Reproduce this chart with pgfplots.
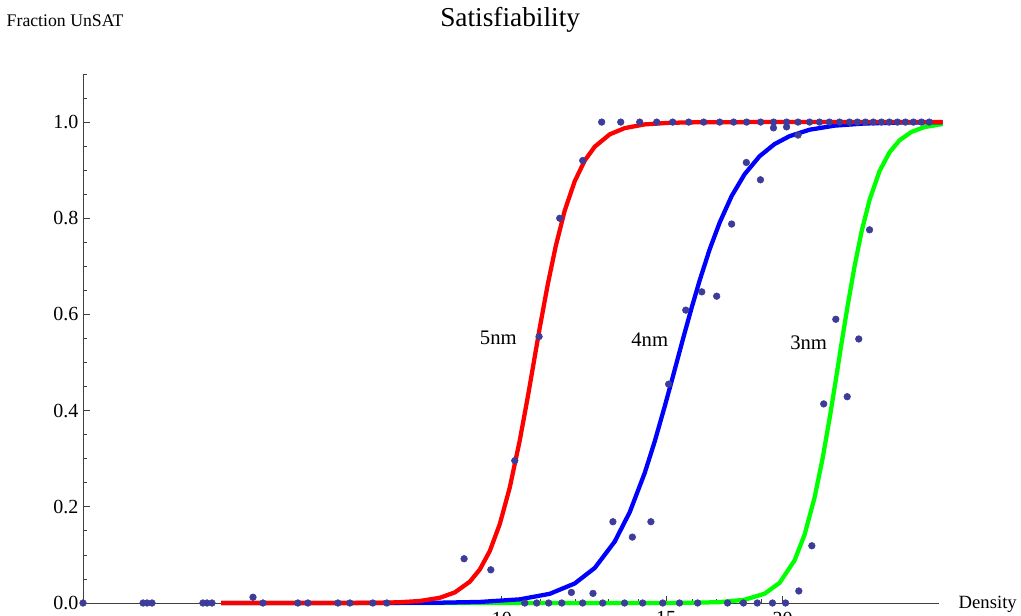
\documentclass[border=0pt]{standalone}
\usepackage{fontspec}
\setmainfont{Liberation Serif}
\usepackage{pgfplots}
\usepackage{pgfplotstable}
\pgfplotsset{compat=1.18}
\definecolor{ptcol}{rgb}{0.24,0.24,0.6}
\definecolor{axcol}{gray}{0.25}

% measured fraction of unsatisfiable instances vs. density
\pgfplotstableread{
x y
3.557 0
4.125 0
4.166 0
4.217 0
4.782 0
4.830 0
4.890 0
5.411 0.012
5.546 0
6.045 0
6.196 0
6.673 0
6.874 0
7.274 0
7.530 0
9.112 0.092
9.733 0.069
10.326 0.296
10.584 0
10.901 0
10.964 0.554
11.228 0
11.538 0.800
11.596 0
11.875 0.022
12.211 0.920
12.210 0
12.525 0.020
12.797 1.0
12.830 0
13.157 0.169
13.414 1.0
13.540 0
13.804 0.137
14.057 1.0
14.160 0
14.450 0.169
14.660 1.0
14.880 0
15.098 0.455
15.250 1.0
15.510 0
15.750 0.609
15.864 1.0
16.220 0
16.385 0.647
16.462 1.0
16.999 0.638
17.126 1.0
17.460 0
17.638 0.788
17.727 1.0
18.160 0
18.290 0.916
18.305 1.0
18.790 0
18.940 0.880
18.948 1.0
19.510 0
19.560 0.988
19.566 1.0
20.150 0
20.200 0.990
20.203 1.0
20.780 0.973
20.780 1.0
20.820 0.025
21.380 1.0
21.500 0.119
21.910 1.0
22.140 0.414
22.450 1.0
22.810 0.590
23.020 1.0
23.460 0.429
23.590 1.0
24.060 1.0
24.140 0.549
24.540 1.0
24.790 0.776
25.020 1.0
25.530 1.0
26.030 1.0
26.560 1.0
27.090 1.0
27.630 1.0
28.180 1.0
28.730 1.0
}\measured

% fitted curves, 3nm / 4nm / 5nm
\pgfplotstableread{
x y
5.000 0
9.951 0
12.734 0.000003
14.408 0.000045
15.902 0.00037
17.126 0.0018
18.215 0.0068
19.135 0.0194
19.855 0.0419
20.600 0.0884
21.115 0.1418
21.643 0.2190
22.074 0.2998
22.459 0.383
22.794 0.460
23.134 0.540
23.481 0.617
23.890 0.700
24.306 0.772
24.790 0.838
25.409 0.898
26.040 0.937
26.690 0.962
27.490 0.9795
28.386 0.9896
29.690 0.9960
}\fitthree

\pgfplotstableread{
x y
5.000 0
6.076 0.00001
7.404 0.0001
8.584 0.00064
9.472 0.0022
10.454 0.0076
11.257 0.0191
11.973 0.0406
12.582 0.0730
13.214 0.1276
13.716 0.1890
14.232 0.2705
14.587 0.3358
14.949 0.4081
15.210 0.4613
15.399 0.5
15.667 0.554
15.980 0.614
16.301 0.671
16.709 0.7356
17.126 0.7913
17.639 0.8462
18.215 0.8917
18.901 0.9291
19.612 0.9543
20.350 0.9708
21.376 0.9841
22.738 0.9926
24.485 0.99706
26.690 0.99901
29.690 0.99974
}\fitfour

\pgfplotstableread{
x y
5.000 0
6.076 0.00001
6.875 0.000146
7.404 0.00062
7.778 0.0016
8.171 0.0042
8.584 0.0109
8.907 0.0221
9.242 0.0444
9.472 0.0697
9.708 0.108
9.951 0.164
10.199 0.240
10.454 0.338
10.662 0.428
10.821 0.5
10.982 0.572
11.201 0.662
11.425 0.742
11.681 0.816
11.973 0.877
12.272 0.920
12.582 0.949
13.056 0.9746
13.548 0.9875
14.232 0.9952
15.131 0.99854
16.301 0.99966
18.442 0.99997
29.690 1.0
}\fitfive

\begin{document}
\begin{tikzpicture}
\begin{axis}[
  at={(62.25pt,-452.25pt)}, anchor=south west,
  scale only axis, width=642pt, height=396.75pt,
  xmode=log, xmin=3.557, xmax=29.43, ymin=0, ymax=1.1,
  clip=false,
  axis lines=left,
  axis line style={-, draw=axcol, line width=0.7pt},
  tick align=inside,
  major tick length=5.25pt, minor tick length=3pt,
  tick style={draw=axcol, line width=0.6pt},
  xtick={10,15,20}, xticklabels={10,15,20},
  minor xtick={11,12,13,14,16,17,18,19},
  ytick={0,0.2,0.4,0.6,0.8,1.0},
  yticklabels={0.0,0.2,0.4,0.6,0.8,1.0},
  minor ytick={0.05,0.1,0.15,0.25,0.3,0.35,0.45,0.5,0.55,0.65,0.7,0.75,0.85,0.9,0.95,1.05,1.1},
  /pgf/number format/assume math mode=true,
  ticklabel style={font=\fontsize{15}{18}\selectfont},
  xticklabel style={yshift=-3pt},
  title={Satisfiability},
  title style={at={(axis description cs:0.499,1.0907)}, anchor=base, yshift=-6pt,
    font=\fontsize{20.5}{24}\selectfont},
  xlabel={Density}, ylabel={Fraction UnSAT},
  every axis x label/.style={at={(axis description cs:1.0175,-0.0113)},
    anchor=base west, font=\fontsize{14}{17}\selectfont},
  every axis y label/.style={at={(axis description cs:-0.0946,1.0907)},
    anchor=base west, font=\fontsize{13.3}{16}\selectfont},
]
\addplot[only marks, mark=*, mark size=2.5pt, color=ptcol] table {\measured};
\addplot[color=green, line width=3.2pt] table {\fitthree};
\addplot[color=blue, line width=3.2pt] table {\fitfour};
\addplot[color=red, line width=3.2pt] table {\fitfive};
\node[anchor=base, font=\fontsize{15.5}{18}\selectfont] at (axis cs:9.914,0.5385) {5nm};
\node[anchor=base, font=\fontsize{15.5}{18}\selectfont] at (axis cs:14.408,0.534) {4nm};
\node[anchor=base, font=\fontsize{15.5}{18}\selectfont] at (axis cs:21.33,0.527) {3nm};
\end{axis}
\pgfresetboundingbox
\path[use as bounding box] (0,0) rectangle (765.75pt,-462pt);
\end{tikzpicture}
\end{document}
